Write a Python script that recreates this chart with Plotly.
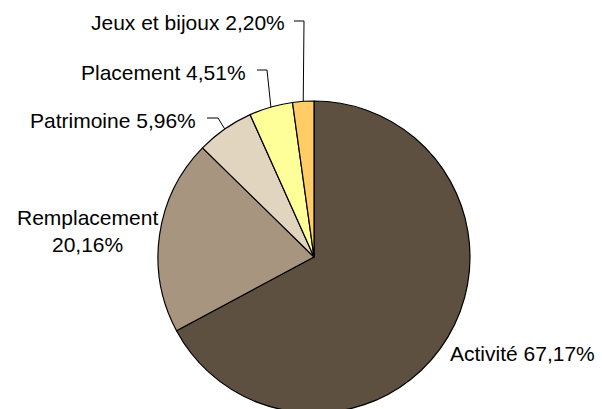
import math
import plotly.graph_objects as go

categories = ["Activité", "Remplacement", "Patrimoine", "Placement", "Jeux et bijoux"]
values = [67.17, 20.16, 5.96, 4.51, 2.20]
value_labels = ["67,17%", "20,16%", "5,96%", "4,51%", "2,20%"]
colors = ["#5D5041", "#A8957F", "#E1D5BF", "#FFFF99", "#FFCC66"]

W, H = 602, 414
CX, CY, R = 314, 257, 156
FONT = "Liberation Sans, Arial, sans-serif"
FS = 21

fig = go.Figure(go.Pie(
    labels=categories,
    values=values,
    sort=False,
    direction="clockwise",
    rotation=0,
    marker=dict(colors=colors, line=dict(color="#000000", width=1.2)),
    textinfo="none",
    hoverinfo="label+percent",
    domain=dict(x=[(CX - R) / W, (CX + R) / W], y=[(H - CY - R) / H, (H - CY + R) / H]),
    showlegend=False,
))

def px(x):
    return x / W

def py(y):
    return 1 - y / H

total = sum(values)
cum = 0
mid_angles = []
for v in values:
    mid_angles.append((cum + v / 2) / total * 2 * math.pi)
    cum += v

def edge(i):
    a = mid_angles[i]
    return CX + R * math.sin(a), CY - R * math.cos(a)

layout_labels = {
    0: dict(x=597, y=353, xanchor="right", text=f"{categories[0]} {value_labels[0]}"),
    1: dict(x=87, y=231, xanchor="center", text=f"{categories[1]}<br>{value_labels[1]}"),
    2: dict(x=198, y=121, xanchor="right", text=f"{categories[2]} {value_labels[2]}", lead=(207, 218, 118)),
    3: dict(x=248, y=72, xanchor="right", text=f"{categories[3]} {value_labels[3]}", lead=(257, 267, 70)),
    4: dict(x=287, y=22, xanchor="right", text=f"{categories[4]} {value_labels[4]}", lead=(294, 304, 21)),
}

for i, lab in layout_labels.items():
    fig.add_annotation(
        x=px(lab["x"]), y=py(lab["y"]), xref="paper", yref="paper",
        xanchor=lab["xanchor"], yanchor="middle", showarrow=False,
        text=lab["text"], align="center",
        font=dict(family=FONT, size=FS, color="#000000"),
    )
    if "lead" in lab:
        x0, x1, ly = lab["lead"]
        ex, ey = edge(i)
        path = f"M {px(x0)} {py(ly)} L {px(x1)} {py(ly)} L {px(ex)} {py(ey)}"
        fig.add_shape(type="path", xref="paper", yref="paper", path=path,
                      line=dict(color="#000000", width=1))

fig.update_layout(
    width=W, height=H,
    margin=dict(l=0, r=0, t=0, b=0),
    paper_bgcolor="#FFFFFF",
    plot_bgcolor="#FFFFFF",
)

fig.write_html(
    "out.html",
    config={"displayModeBar": False},
    post_script="document.body.style.margin='0';document.body.style.overflow='hidden';",
)
